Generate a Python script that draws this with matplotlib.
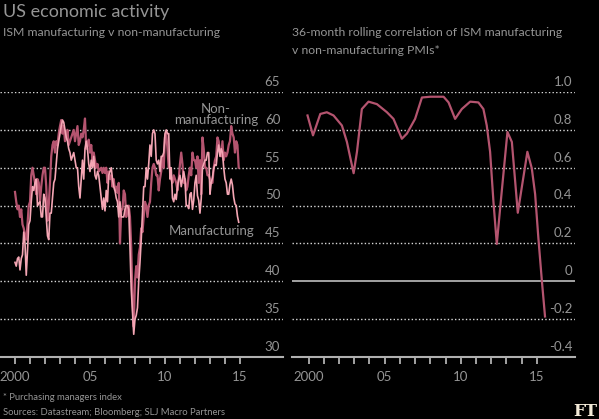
import numpy as np
import matplotlib
matplotlib.use('Agg')
import matplotlib.pyplot as plt

plt.rcParams['font.family'] = ['Lato', 'DejaVu Sans']

# monthly PMI readings, one row per year (as placed on the chart axis)
manufacturing = [
    42.5, 42.0, 43.0, 43.2, 41.5, 43.0, 43.5, 46.5, 45.0, 40.8, 44.0, 47.5,
    48.0, 50.5, 52.5, 52.0, 53.0, 53.5, 50.0, 50.3, 50.5, 48.5, 48.5, 51.5,
    51.0, 48.5, 46.0, 45.5, 49.0, 49.0, 51.0, 53.0, 53.5, 55.5, 57.5, 58.5,
    59.5, 60.5, 61.3, 61.0, 60.0, 59.0, 58.5, 57.5, 57.0, 56.0, 56.5, 57.0,
    56.0, 55.0, 55.0, 52.5, 51.0, 53.5, 56.0, 53.5, 57.5, 58.5, 57.5, 55.5,
    54.5, 56.0, 55.0, 56.5, 54.0, 53.5, 54.5, 54.0, 52.5, 51.0, 49.5, 51.0,
    49.3, 52.0, 50.5, 54.0, 54.5, 55.0, 53.5, 52.5, 52.0, 51.0, 50.5, 48.5,
    50.5, 48.5, 48.5, 48.5, 49.5, 50.0, 50.0, 49.5, 44.5, 39.0, 36.0, 33.0,
    35.0, 35.5, 36.5, 40.0, 42.5, 45.5, 49.0, 52.5, 52.5, 55.0, 53.5, 55.5,
    58.0, 56.5, 59.5, 60.0, 59.5, 56.0, 55.5, 56.0, 54.5, 56.5, 56.5, 57.0,
    59.5, 60.0, 59.5, 59.5, 53.5, 55.0, 51.0, 50.5, 51.5, 50.8, 52.5, 53.5,
    54.0, 52.5, 53.5, 54.5, 53.5, 50.0, 50.0, 49.6, 51.5, 51.7, 49.5, 50.7,
    53.0, 54.0, 51.3, 50.7, 49.0, 50.9, 55.0, 55.5, 56.0, 56.0, 57.0, 57.0,
    51.5, 53.0, 53.7, 54.9, 55.4, 55.3, 57.0, 58.0, 56.5, 57.5, 57.0, 55.0,
    53.5, 53.0, 51.5, 51.5, 52.8, 53.5, 52.7, 51.1, 50.2, 50.0, 48.6, 47.8,
]
non_manufacturing = [
    51.8, 50.5, 49.5, 50.0, 48.5, 49.5, 47.5, 47.0, 46.0, 45.5, 47.5, 50.0,
    50.5, 54.0, 55.0, 54.0, 53.0, 51.5, 53.5, 53.0, 50.5, 52.5, 54.0, 55.0,
    55.0, 52.5, 48.0, 50.0, 53.0, 56.5, 58.0, 58.5, 57.0, 58.5, 58.0, 59.5,
    60.5, 61.3, 59.5, 60.5, 58.5, 59.0, 60.0, 58.0, 58.5, 59.0, 59.5, 60.0,
    58.5, 59.5, 60.5, 58.0, 58.5, 59.5, 59.0, 60.0, 61.5, 57.5, 58.0, 58.7,
    57.0, 58.0, 56.0, 57.0, 56.0, 55.0, 55.5, 54.5, 54.7, 55.0, 54.3, 55.0,
    54.3, 55.0, 53.0, 54.5, 53.5, 54.0, 52.5, 53.5, 52.0, 52.5, 51.7, 53.0,
    45.0, 49.5, 49.5, 52.0, 51.5, 48.5, 49.5, 50.0, 48.5, 44.5, 37.5, 34.0,
    40.0, 42.0, 40.5, 43.5, 44.5, 47.0, 46.5, 48.5, 50.5, 50.0, 48.5, 50.0,
    50.5, 53.0, 55.0, 55.5, 55.0, 54.0, 54.0, 52.0, 53.5, 54.5, 56.5, 55.0,
    59.0, 59.5, 57.5, 55.0, 55.0, 53.5, 53.0, 54.0, 53.5, 53.0, 52.0, 53.5,
    55.5, 57.0, 55.5, 53.0, 53.5, 52.0, 52.5, 54.0, 55.0, 54.0, 57.0, 56.0,
    56.0, 55.0, 56.5, 53.0, 56.0, 51.5, 59.0, 57.5, 55.0, 55.0, 54.0, 54.0,
    53.5, 53.0, 53.0, 55.0, 56.0, 56.5, 59.0, 58.5, 57.0, 56.5, 58.5, 56.0,
    57.0, 56.5, 57.0, 58.0, 58.5, 60.5, 59.5, 59.0, 57.0, 58.5, 58.0, 55.0,
]
months = 2000 + np.arange(len(manufacturing)) / 12.0

# 36-month rolling correlation
corr_year = [1999.93, 2000.29, 2000.77, 2001.2, 2001.64, 2002.19, 2002.52, 2002.96,
             2003.18, 2003.5, 2003.94, 2004.49, 2005.15, 2005.58, 2006.13, 2006.46,
             2007.0, 2007.45, 2007.99, 2008.87, 2009.2, 2009.63, 2010.07, 2010.62,
             2011.16, 2011.49, 2011.71, 2011.93, 2012.15, 2012.37, 2012.63, 2013.07,
             2013.36, 2013.75, 2014.38, 2014.67, 2014.89, 2015.1, 2015.33, 2015.54]
corr_val = [0.876, 0.771, 0.884, 0.893, 0.876, 0.823, 0.736, 0.571,
            0.684, 0.91, 0.949, 0.936, 0.893, 0.858, 0.753, 0.78,
            0.858, 0.971, 0.975, 0.975, 0.945, 0.858, 0.91, 0.949,
            0.945, 0.91, 0.823, 0.684, 0.42, 0.197, 0.42, 0.789,
            0.736, 0.362, 0.684, 0.597, 0.46, 0.231, 0.005, -0.186]

left_ticks = [30, 35, 40, 45, 50, 55, 60, 65]
right_ticks = [-0.4, -0.2, 0, 0.2, 0.4, 0.6, 0.8, 1.0]
right_labels = ['-0.4', '-0.2', '0', '0.2', '0.4', '0.6', '0.8', '1.0']
year_ticks = list(range(2000, 2016))

BG = '#000000'
DARK = '#b4546f'
LIGHT = '#f4a6b4'
TXT = '#959595'
GRID = '#d8d8d8'
AXIS = '#b0b0b0'

W, H = 599, 419
fig = plt.figure(figsize=(W / 100, H / 100), dpi=100, facecolor=BG)

def px_axes(x0, x1, y0, y1):
    return fig.add_axes([x0 / W, 1 - y1 / H, (x1 - x0) / W, (y1 - y0) / H])

def style(ax, ticks, labels, zero=None):
    ax.set_facecolor(BG)
    for s in ['top', 'left', 'right']:
        ax.spines[s].set_visible(False)
    ax.spines['bottom'].set_color(AXIS)
    ax.spines['bottom'].set_linewidth(1.5)
    ax.set_yticks([])
    for v, lab in zip(ticks, labels):
        if v == ticks[0]:
            pass
        elif v == zero:
            ax.axhline(v, color=AXIS, lw=1.3, zorder=1)
        else:
            ax.axhline(v, color=GRID, lw=1.0, ls=(0, (1, 1.6)), zorder=1)
        ax.annotate(lab, xy=(0.99, v), xycoords=('axes fraction', 'data'),
                    xytext=(0, 3), textcoords='offset points',
                    ha='right', va='bottom', color=TXT, fontsize=9.5)
    ax.set_xticks(year_ticks)
    ax.set_xticklabels(['2000' if y == 2000 else (str(y)[2:] if y % 5 == 0 else '')
                        for y in year_ticks])
    ax.tick_params(axis='x', colors=AXIS, length=5, width=1.3, pad=5,
                   labelcolor=TXT, labelsize=9.5)

ax1 = px_axes(0, 283, 92, 357)
ax1.plot(months, non_manufacturing, color=DARK, lw=1.6, zorder=3)
ax1.plot(months, manufacturing, color=LIGHT, lw=1.2, zorder=3)
ax1.set_xlim(1999.0, 2017.87)
ax1.set_ylim(30, 65)
style(ax1, left_ticks, [str(v) for v in left_ticks])
ax1.text(2016.2, 60.5, 'Non-\nmanufacturing', ha='right', va='bottom', color=TXT,
         fontsize=9.5, linespacing=0.95, multialignment='center', zorder=4)
ax1.text(2016.0, 45.9, 'Manufacturing', ha='right', va='bottom', color=TXT, fontsize=9.5)

ax2 = px_axes(292, 575, 92, 357)
ax2.plot(corr_year, corr_val, color=DARK, lw=1.6, zorder=3)
ax2.set_xlim(1998.91, 2017.51)
ax2.set_ylim(-0.4, 1.0)
style(ax2, right_ticks, right_labels, zero=0)

fig.text(3 / W, 1 - 12 / H, 'US economic activity', color=TXT, fontsize=13,
         va='center', ha='left')
fig.text(3 / W, 1 - 33 / H, 'ISM manufacturing v non-manufacturing', color=TXT,
         fontsize=8.8, va='center', ha='left')
fig.text(292 / W, 1 - 33 / H, '36-month rolling correlation of ISM manufacturing',
         color=TXT, fontsize=8.8, va='center', ha='left')
fig.text(292 / W, 1 - 50 / H, 'v non-manufacturing PMIs*', color=TXT,
         fontsize=8.8, va='center', ha='left')
fig.text(3 / W, 1 - 397 / H, '* Purchasing managers index', color=TXT,
         fontsize=6.8, va='center', ha='left')
fig.text(3 / W, 1 - 412 / H, 'Sources: Datastream; Bloomberg; SLJ Macro Partners',
         color=TXT, fontsize=6.8, va='center', ha='left')
fig.text(597 / W, 1 - 411 / H, 'FT', color='#f3ead8', fontsize=12, fontweight='bold',
         family='DejaVu Serif', va='center', ha='right')

fig.savefig('out.png', dpi=100, facecolor=BG)
